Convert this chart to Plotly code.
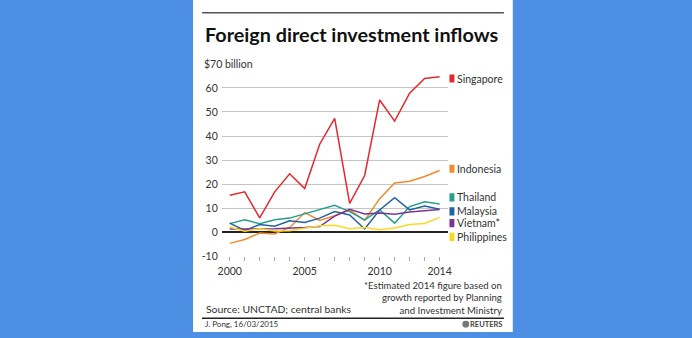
import plotly.graph_objects as go

years = list(range(2000, 2015))
singapore = [15.4, 16.8, 6.0, 16.8, 24.3, 18.2, 36.6, 47.3, 12.0, 23.6, 55.0, 46.2, 57.8, 63.9, 64.6]
indonesia = [-4.6, -3.0, -0.3, -0.7, 2.0, 8.2, 4.9, 6.9, 9.3, 4.9, 14.0, 20.5, 21.2, 23.2, 25.7]
thailand = [3.6, 5.2, 3.6, 5.2, 5.9, 7.7, 9.3, 11.2, 8.6, 5.2, 9.3, 3.8, 10.7, 12.7, 11.8]
malaysia = [3.8, 0.8, 3.2, 2.5, 4.8, 4.1, 5.9, 8.6, 7.2, 1.4, 9.3, 14.4, 9.3, 10.9, 9.6]
vietnam = [1.4, 1.3, 1.4, 1.5, 1.6, 2.0, 2.4, 6.7, 9.6, 7.6, 8.0, 7.5, 8.4, 8.9, 9.5]
philippines = [2.2, 0.4, 1.5, 0.5, 0.6, 1.7, 2.7, 2.9, 1.5, 2.0, 1.1, 1.8, 3.2, 3.7, 6.2]

series_names = ["Singapore", "Indonesia", "Thailand", "Malaysia", "Vietnam*", "Philippines"]
series_values = [singapore, indonesia, thailand, malaysia, vietnam, philippines]
colors = ["#e8272c", "#f28a2e", "#24a08b", "#1f63a6", "#7a3494", "#fbd823"]
label_y = [63.9, 26.4, 14.5, 8.7, 3.8, -1.9]  # label placement (data units)

y_ticks = [-10, 0, 10, 20, 30, 40, 50, 60, 70]
y_ticktext = ["-10", "0", "10", "20", "30", "40", "50", "60", ""]
x_ticks = [2000, 2005, 2010, 2014]

W, H = 692, 338
FONT = "Lato"

def px(x):
    return x / W

def py(y):
    return 1 - y / H

fig = go.Figure()
for name, vals, col in zip(series_names, series_values, colors):
    fig.add_trace(go.Scatter(x=years, y=vals, mode="lines", name=name,
                             line=dict(color=col, width=1.5), hoverinfo="x+y+name"))

annotations = []
shapes = []
# legend labels
for name, ly, col in zip(series_names, label_y, colors):
    annotations.append(dict(x=px(456), y=ly, xref="paper", yref="y", text=name,
                            showarrow=False, xanchor="left", yanchor="middle",
                            font=dict(family=FONT, size=10.5, color="#333")))
    shapes.append(dict(type="rect", xref="paper", yref="y",
                       x0=px(450), x1=px(455), y0=ly - 1.7, y1=ly + 1.7,
                       fillcolor=col, line=dict(width=0)))

# $70 billion label
annotations.append(dict(x=px(200), y=70, xref="paper", yref="y", text="$70 billion",
                        showarrow=False, xanchor="left", yanchor="middle",
                        bgcolor="white", borderpad=1,
                        font=dict(family=FONT, size=10.5, color="#333")))
# Title
annotations.append(dict(x=px(201), y=py(35), xref="paper", yref="paper",
                        text="<b>Foreign direct investment inflows</b>",
                        showarrow=False, xanchor="left", yanchor="middle",
                        font=dict(family=FONT, size=19.8, color="#111")))
# Footnote
annotations.append(dict(x=px(505), y=py(303.5), xref="paper", yref="paper",
                        text="*Estimated 2014 figure based on<br>growth reported by Planning<br>and Investment Ministry",
                        showarrow=False, xanchor="right", yanchor="middle", align="right",
                        font=dict(family=FONT, size=9.6, color="#333")))
# Source
annotations.append(dict(x=px(202), y=py(314.5), xref="paper", yref="paper",
                        text="Source: UNCTAD; central banks",
                        showarrow=False, xanchor="left", yanchor="middle",
                        font=dict(family=FONT, size=10.4, color="#333")))
# Byline
annotations.append(dict(x=px(201), y=py(330), xref="paper", yref="paper",
                        text="J. Pong, 16/03/2015",
                        showarrow=False, xanchor="left", yanchor="middle",
                        font=dict(family=FONT, size=8, color="#333")))
annotations.append(dict(x=px(505), y=py(330), xref="paper", yref="paper",
                        text="<b>REUTERS</b>",
                        showarrow=False, xanchor="right", yanchor="middle",
                        font=dict(family=FONT, size=7.5, color="#444")))

# white panel
shapes.insert(0, dict(type="rect", xref="paper", yref="paper", x0=px(191), x1=px(514),
                      y0=0, y1=1, fillcolor="white", line=dict(width=0), layer="below"))
# rules
shapes.append(dict(type="line", xref="paper", yref="paper", x0=px(200), x1=px(505),
                   y0=py(13), y1=py(13), line=dict(color="#555", width=1.5)))
shapes.append(dict(type="line", xref="paper", yref="paper", x0=px(200), x1=px(505),
                   y0=py(324), y1=py(324), line=dict(color="#222", width=1.5)))
# reuters logo circle
shapes.append(dict(type="circle", xref="paper", yref="paper", x0=px(463), x1=px(470),
                   y0=py(333.5), y1=py(326.5), fillcolor="#777", line=dict(width=0)))

fig.update_layout(
    width=W, height=H, margin=dict(l=0, r=0, t=0, b=0),
    paper_bgcolor="#4d8fe3", plot_bgcolor="rgba(0,0,0,0)",
    showlegend=False,
    annotations=annotations, shapes=shapes,
    xaxis=dict(domain=[px(220), px(449)], range=[1999.47, 2014.59],
               tickvals=x_ticks, ticktext=[str(v) for v in x_ticks],
               showgrid=False, zeroline=False, showline=False,
               ticks="outside", ticklen=4, tickcolor="#aaa", tickwidth=1,
               minor=dict(tick0=2000, dtick=1, ticks="outside", ticklen=4,
                          tickcolor="#aaa", tickwidth=1, showgrid=False),
               ticklabelstandoff=1,
               tickfont=dict(family=FONT, size=10.5, color="#333"),
               fixedrange=True),
    yaxis=dict(domain=[py(261), py(65)], range=[-10, 70],
               tickvals=y_ticks, ticktext=y_ticktext,
               showgrid=True, gridcolor="#c4c4c4", gridwidth=1,
               zeroline=True, zerolinecolor="#222", zerolinewidth=1.5,
               showline=False, ticks="", ticklabelstandoff=3,
               tickfont=dict(family=FONT, size=10.5, color="#333"),
               fixedrange=True),
)

fig.write_html("out.html", config={"displayModeBar": False})
